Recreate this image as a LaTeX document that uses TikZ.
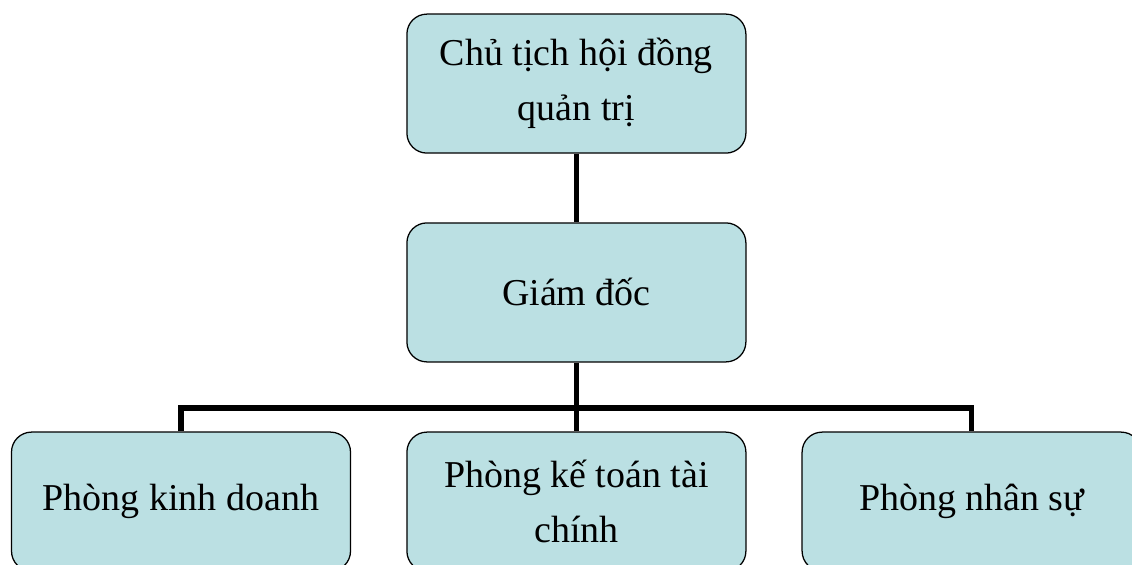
\documentclass[tikz,border=0pt]{standalone}
\usepackage{fontspec}
\setmainfont{Liberation Serif}
\usetikzlibrary{positioning, calc}
\definecolor{boxcyan}{RGB}{187,224,227}

\begin{document}
\begin{tikzpicture}[
        box/.style={rectangle, rounded corners=0.5cm, draw=black, line width=0.9pt, fill=boxcyan,
            minimum width=8.475cm, minimum height=3.475cm, align=center,
            font=\fontsize{27}{39}\selectfont},
        link/.style={draw=black, line width=3.6pt},
    ]
    \useasboundingbox (0,0) rectangle (28.3,14.1);

        % Draw the upper boxes
        \node[box] (CT) at (14.41,12.01) {Chủ tịch hội đồng\\quản trị};
        \node[box] (GD) at (14.41,6.79) {Giám đốc};

        % Draw the department boxes
        \foreach \name / \x / \txt in {KD/4.525/{Phòng kinh doanh},
                                      KT/14.41/{Phòng kế toán tài\\chính},
                                      NS/24.29/{Phòng nhân sự}}
            \node[box] (\name) at (\x,1.56) {\txt};

        \coordinate (bar) at (14.41,3.9);

        % Connect the boxes
        \path[link] (CT) -- (GD);
        \path[link] (GD) -- (KT);
        \path[link] (KD.north) |- (bar) -| (NS.north);
    \end{tikzpicture}
\end{document}
